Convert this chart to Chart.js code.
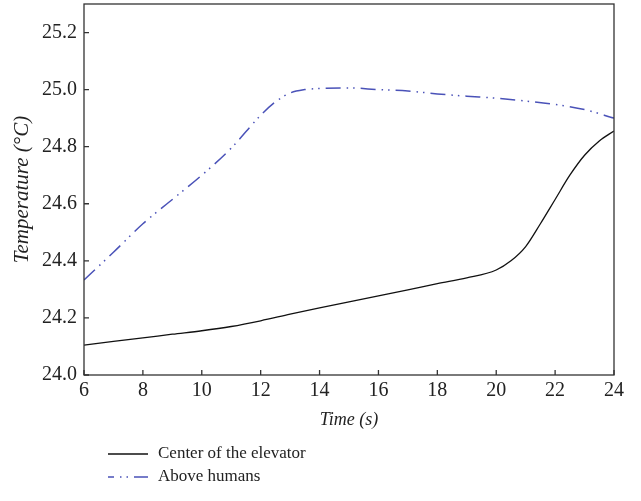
<!DOCTYPE html>
<html>
<head>
<meta charset="utf-8">
<script src="https://cdn.jsdelivr.net/npm/chart.js@4/dist/chart.umd.min.js"></script>
<style>
html,body{margin:0;padding:0;background:#fff;}
#wrap{width:641px;height:501px;position:relative;}
</style>
</head>
<body>
<div id="wrap"><canvas id="c" width="641" height="501"></canvas></div>
<script>
// Data
const centerTimes = [6, 7, 8, 9, 10, 11, 12, 13, 14, 15, 16, 17, 18, 19, 20, 20.5, 21, 21.5, 22, 22.5, 23, 23.5, 24];
const centerTemps = [24.105, 24.118, 24.130, 24.143, 24.155, 24.170, 24.190, 24.213, 24.235, 24.256, 24.277, 24.298, 24.320, 24.340, 24.368, 24.400, 24.450, 24.530, 24.615, 24.700, 24.770, 24.820, 24.855];
const aboveTimes = [6, 7, 8, 9, 10, 11, 12, 12.5, 13, 13.5, 14, 15, 16, 17, 18, 19, 20, 21, 22, 23, 24];
const aboveTemps = [24.333, 24.430, 24.530, 24.615, 24.700, 24.795, 24.910, 24.957, 24.988, 25.000, 25.004, 25.006, 25.000, 24.995, 24.985, 24.977, 24.970, 24.960, 24.948, 24.930, 24.900];
const seriesLabels = ['Center of the elevator', 'Above humans'];
const xTitle = 'Time (s)';
const yTitle = 'Temperature (°C)';

const FONT = "'Liberation Serif', 'DejaVu Serif', serif";
const toXY = (xs, ys) => xs.map((x, i) => ({x: x, y: ys[i]}));

const frameAndTicks = {
  id: 'frameAndTicks',
  afterDatasetsDraw(chart) {
    const {ctx, chartArea: a, scales} = chart;
    ctx.save();
    ctx.strokeStyle = '#333';
    ctx.lineWidth = 1.3;
    ctx.setLineDash([]);
    ctx.strokeRect(a.left, a.top, a.right - a.left, a.bottom - a.top);
    ctx.beginPath();
    scales.x.ticks.forEach(t => {
      const px = scales.x.getPixelForValue(t.value);
      ctx.moveTo(px, a.bottom); ctx.lineTo(px, a.bottom - 5);
    });
    scales.y.ticks.forEach(t => {
      const py = scales.y.getPixelForValue(t.value);
      ctx.moveTo(a.left, py); ctx.lineTo(a.left + 5, py);
    });
    ctx.stroke();
    ctx.restore();
  }
};

const customLegend = {
  id: 'customLegend',
  afterDraw(chart) {
    const {ctx} = chart;
    ctx.save();
    ctx.font = "17px " + FONT;
    ctx.textBaseline = 'middle';
    ctx.textAlign = 'left';
    chart.data.datasets.forEach((ds, i) => {
      const y = 454 + i * 23;
      ctx.strokeStyle = ds.borderColor;
      ctx.lineWidth = ds.borderWidth;
      ctx.setLineDash(ds.borderDash || []);
      ctx.lineDashOffset = i === 1 ? 9 : 0;
      ctx.beginPath();
      ctx.moveTo(108, y); ctx.lineTo(148, y);
      ctx.stroke();
      ctx.setLineDash([]);
      ctx.fillStyle = '#222';
      ctx.fillText(ds.label, 158, y);
    });
    ctx.restore();
  }
};

new Chart(document.getElementById('c'), {
  type: 'line',
  data: {
    datasets: [
      {
        label: seriesLabels[0],
        data: toXY(centerTimes, centerTemps),
        borderColor: '#111',
        borderWidth: 1.3,
        pointRadius: 0,
        cubicInterpolationMode: 'monotone',
        fill: false
      },
      {
        label: seriesLabels[1],
        data: toXY(aboveTimes, aboveTemps),
        borderColor: '#4a52b8',
        borderWidth: 1.5,
        borderDash: [15, 6, 1.5, 5, 1.5, 6],
        pointRadius: 0,
        cubicInterpolationMode: 'monotone',
        fill: false
      }
    ]
  },
  options: {
    responsive: false,
    animation: false,
    layout: {padding: {left: 10, right: 27, top: 4, bottom: 66}},
    plugins: {legend: {display: false}, tooltip: {enabled: false}},
    scales: {
      x: {
        type: 'linear',
        min: 6, max: 24,
        ticks: {stepSize: 2, color: '#222', font: {family: FONT, size: 20}, padding: 4, maxRotation: 0},
        grid: {display: false, drawTicks: false},
        border: {display: false},
        title: {display: true, text: xTitle, color: '#222', font: {family: FONT, size: 18, style: 'italic'}, padding: {top: 0, bottom: 4}},
        afterFit(s) { s.height = 60; s.paddingLeft = 0; s.paddingRight = 0; }
      },
      y: {
        type: 'linear',
        min: 24.0, max: 25.3,
        ticks: {stepSize: 0.2, includeBounds: false, color: '#222', font: {family: FONT, size: 20}, padding: 7,
                callback: v => Number(v).toFixed(1)},
        grid: {display: false, drawTicks: false},
        border: {display: false},
        title: {display: true, text: yTitle, color: '#222', font: {family: FONT, size: 21, style: 'italic'}, padding: {top: 0, bottom: 4}},
        afterFit(s) { s.width = 74; s.paddingTop = 0; s.paddingBottom = 0; }
      }
    }
  },
  plugins: [frameAndTicks, customLegend]
});
</script>
</body>
</html>
